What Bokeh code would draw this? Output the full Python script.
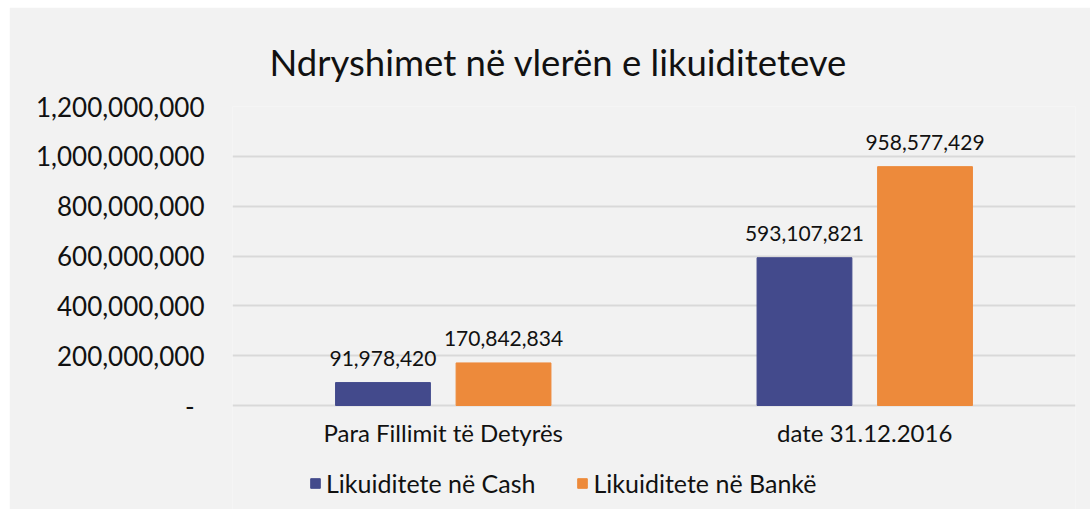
from bokeh.plotting import figure
from bokeh.models import (ColumnDataSource, FactorRange, Range1d, FixedTicker,
                          NumeralTickFormatter, Legend, LegendItem, Title, LabelSet)
from bokeh.core.properties import value
from bokeh.transform import dodge
from bokeh.embed import file_html
from bokeh.resources import INLINE

categories = ["Para Fillimit të Detyrës", "date 31.12.2016"]
cash = [91978420, 593107821]
bank = [170842834, 958577429]
series_names = ["Likuiditete në Cash", "Likuiditete në Bankë"]
y_ticks = [0, 200000000, 400000000, 600000000, 800000000, 1000000000, 1200000000]
title_text = "Ndryshimet në vlerën e likuiditeteve"

FONT = "Lato"
BLUE = "#434a8c"
ORANGE = "#ed8a3b"
BG = "#f2f2f2"
TXT = "#111111"

# frame spans to the bottom of the figure; axis and legend sit below zero inside it
Y_MAX = 1200000000
Y_MIN = -Y_MAX * 104 / 299

src = ColumnDataSource(dict(
    cat=categories, cash=cash, bank=bank,
    cash_lbl=[f"{v:,}" for v in cash], bank_lbl=[f"{v:,}" for v in bank],
))

p = figure(x_range=FactorRange(*categories), y_range=Range1d(Y_MIN, Y_MAX),
           width=1081, height=502, output_backend="svg", toolbar_location=None,
           background_fill_color=BG, border_fill_color=BG,
           min_border_left=223, min_border_right=15, min_border_top=99, min_border_bottom=0)
p.margin = (7, 0, 0, 9)
p.outline_line_color = None

r1 = p.vbar(x=dodge("cat", -0.143, range=p.x_range), top="cash", width=0.225,
            source=src, fill_color=BLUE, line_color=BLUE)
r2 = p.vbar(x=dodge("cat", 0.143, range=p.x_range), top="bank", width=0.225,
            source=src, fill_color=ORANGE, line_color=ORANGE)

for col, lbl, off in (("cash", "cash_lbl", -0.143), ("bank", "bank_lbl", 0.143)):
    ls = LabelSet(x=dodge("cat", off, range=p.x_range), y=col, text=lbl, source=src,
                  text_align="center", text_baseline="alphabetic", y_offset=17,
                  text_font=value(FONT), text_font_size="21px", text_color=TXT)
    p.add_layout(ls)

p.title = Title(text=title_text, text_font=FONT, text_font_size="36.5px",
                text_font_style="normal", text_color=TXT, align="left",
                offset=37, standoff=46)

p.yaxis.ticker = FixedTicker(ticks=y_ticks)
p.yaxis.formatter = NumeralTickFormatter(format="0,0")
p.yaxis.major_label_overrides = {0: "-\u00a0\u2009"}
p.yaxis.axis_line_color = None
p.yaxis.major_tick_line_color = None
p.yaxis.major_tick_out = 0
p.yaxis.major_tick_in = 0
p.yaxis.minor_tick_line_color = None
p.yaxis.major_label_standoff = 28
p.yaxis.major_label_text_font = FONT
p.yaxis.major_label_text_font_size = "26px"
p.yaxis.major_label_text_color = TXT

p.xaxis.fixed_location = 0
p.xaxis.axis_line_color = None
p.xaxis.major_tick_line_color = None
p.xaxis.major_tick_out = 0
p.xaxis.major_tick_in = 0
p.xaxis.minor_tick_line_color = None
p.xaxis.major_label_standoff = 12
p.xaxis.major_label_text_font = FONT
p.xaxis.major_label_text_font_size = "24px"
p.xaxis.major_label_text_color = TXT

p.xgrid.grid_line_color = None
p.ygrid.grid_line_color = "#d9d9d9"
p.ygrid.grid_line_width = 2

legend = Legend(items=[LegendItem(label=series_names[0], renderers=[r1]),
                       LegendItem(label=series_names[1], renderers=[r2])],
                orientation="horizontal", location=(77, 11),
                background_fill_alpha=0, border_line_color=None,
                glyph_width=12, glyph_height=12, label_standoff=5, spacing=41,
                padding=0, margin=0,
                label_text_font=FONT, label_text_font_size="25px", label_text_color=TXT)
p.add_layout(legend, "center")

open("out.html", "w").write(file_html(p, INLINE))
